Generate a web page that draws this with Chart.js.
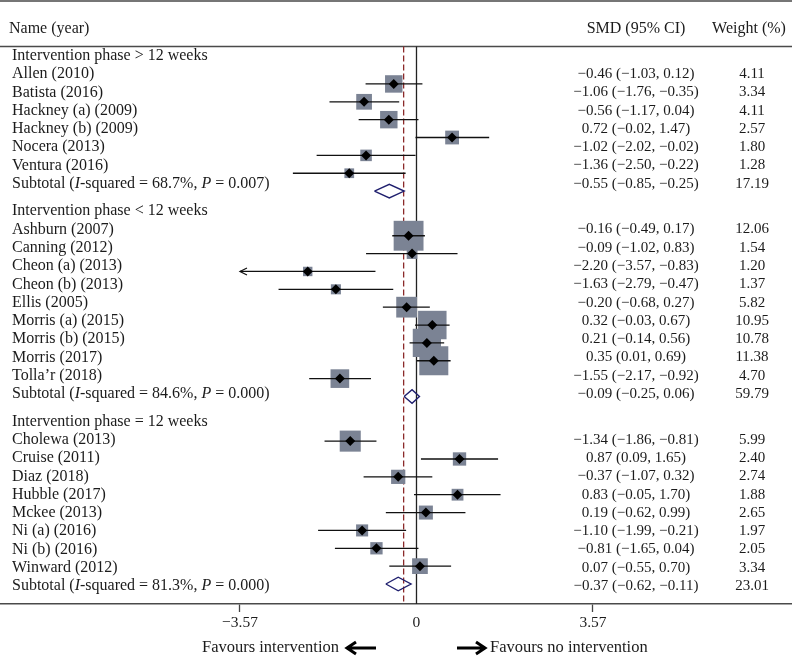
<!DOCTYPE html>
<html>
<head>
<meta charset="utf-8">
<script src="https://cdn.jsdelivr.net/npm/chart.js@4.4.0/dist/chart.umd.min.js"></script>
<style>
  html, body { margin: 0; padding: 0; background: #fff; }
  #wrap { width: 792px; height: 656px; position: relative; }
</style>
</head>
<body>
<div id="wrap"><canvas id="forest"></canvas></div>
<script>
// study data, one list per subgroup
const groupTitles = ['Intervention phase > 12 weeks', 'Intervention phase < 12 weeks', 'Intervention phase = 12 weeks'];
const groupNames = [
    ['Allen (2010)', 'Batista (2016)', 'Hackney (a) (2009)', 'Hackney (b) (2009)', 'Nocera (2013)', 'Ventura (2016)'],
    ['Ashburn (2007)', 'Canning (2012)', 'Cheon (a) (2013)', 'Cheon (b) (2013)', 'Ellis (2005)', 'Morris (a) (2015)', 'Morris (b) (2015)', 'Morris (2017)', 'Tolla\u2019r (2018)'],
    ['Cholewa (2013)', 'Cruise (2011)', 'Diaz (2018)', 'Hubble (2017)', 'Mckee (2013)', 'Ni (a) (2016)', 'Ni (b) (2016)', 'Winward (2012)']
];
const groupSmd = [
    [-0.46, -1.06, -0.56, 0.72, -1.02, -1.36],
    [-0.16, -0.09, -2.20, -1.63, -0.20, 0.32, 0.21, 0.35, -1.55],
    [-1.34, 0.87, -0.37, 0.83, 0.19, -1.10, -0.81, 0.07]
];
const groupLow = [
    [-1.03, -1.76, -1.17, -0.02, -2.02, -2.50],
    [-0.49, -1.02, -3.57, -2.79, -0.68, -0.03, -0.14, 0.01, -2.17],
    [-1.86, 0.09, -1.07, -0.05, -0.62, -1.99, -1.65, -0.55]
];
const groupHigh = [
    [0.12, -0.35, 0.04, 1.47, -0.02, -0.22],
    [0.17, 0.83, -0.83, -0.47, 0.27, 0.67, 0.56, 0.69, -0.92],
    [-0.81, 1.65, 0.32, 1.70, 0.99, -0.21, 0.04, 0.70]
];
const groupWeight = [
    [4.11, 3.34, 4.11, 2.57, 1.80, 1.28],
    [12.06, 1.54, 1.20, 1.37, 5.82, 10.95, 10.78, 11.38, 4.70],
    [5.99, 2.40, 2.74, 1.88, 2.65, 1.97, 2.05, 3.34]
];
const subtotalSmd = [-0.55, -0.09, -0.37];
const subtotalLow = [-0.85, -0.25, -0.62];
const subtotalHigh = [-0.25, 0.06, -0.11];
const subtotalWeight = [17.19, 59.79, 23.01];
const subtotalI2 = ['68.7%', '84.6%', '81.3%'];
const subtotalP = ['0.007', '0.000', '0.000'];
const overallSmd = -0.26;
const tickValues = [-3.57, 0, 3.57];

const SERIF = '"Liberation Serif", "DejaVu Serif", serif';
const TEXT = '#1b1b1b';

function fmt(v) {
    return v.toFixed(2).replace('-', '\u2212');
}

// build the rows: header, studies, subtotal, then a gap
const rows = [];
let r = 0;
groupNames.forEach((names, g) => {
    rows.push({ type: 'head', row: r, text: groupTitles[g] });
    names.forEach((n, i) => {
        r++;
        rows.push({
            type: 'study', row: r, name: n,
            smd: groupSmd[g][i], lo: groupLow[g][i], hi: groupHigh[g][i], w: groupWeight[g][i]
        });
    });
    r++;
    rows.push({
        type: 'sub', row: r, i2: subtotalI2[g], p: subtotalP[g],
        smd: subtotalSmd[g], lo: subtotalLow[g], hi: subtotalHigh[g], w: subtotalWeight[g]
    });
    r += 1.5;
});
const studies = rows.filter(d => d.type === 'study');
const subs = rows.filter(d => d.type === 'sub');

const squareData = studies.map(d => ({ x: d.smd, y: d.row, w: d.w }));
const pointData = studies.map(d => ({ x: d.smd, y: d.row }));
const ciData = [];
studies.forEach(d => {
    ciData.push({ x: d.lo, y: d.row }, { x: d.hi, y: d.row }, { x: null, y: null });
});
const diamondData = [];
subs.forEach(d => {
    diamondData.push(
        { x: d.lo, y: d.row }, { x: d.smd, y: d.row - 0.38 }, { x: d.hi, y: d.row },
        { x: d.smd, y: d.row + 0.38 }, { x: d.lo, y: d.row }, { x: null, y: null });
});

const forestText = {
    id: 'forestText',
    beforeDatasetsDraw(chart) {
        const { ctx, chartArea } = chart;
        const xs = chart.scales.x, ys = chart.scales.y;
        const W = chart.width;
        const sepY = Math.round(ys.getPixelForValue(-0.55)) + 0.5;
        ctx.save();
        // horizontal rules
        ctx.strokeStyle = '#4a4a4a';
        ctx.lineWidth = 1.5;
        ctx.beginPath();
        ctx.moveTo(0, 1); ctx.lineTo(W, 1);
        ctx.moveTo(0, sepY); ctx.lineTo(W, sepY);
        ctx.stroke();
        // no-effect line
        const x0 = xs.getPixelForValue(0);
        ctx.strokeStyle = '#222';
        ctx.lineWidth = 1.3;
        ctx.beginPath();
        ctx.moveTo(x0, sepY); ctx.lineTo(x0, chartArea.bottom);
        ctx.stroke();
        // overall effect line
        const xo = xs.getPixelForValue(overallSmd);
        ctx.strokeStyle = '#8b2a2a';
        ctx.setLineDash([6, 3]);
        ctx.beginPath();
        ctx.moveTo(xo, sepY); ctx.lineTo(xo, chartArea.bottom);
        ctx.stroke();
        ctx.restore();
    },
    afterDatasetsDraw(chart) {
        const { ctx } = chart;
        const xs = chart.scales.x, ys = chart.scales.y, ym = chart.scales.ym;
        const nameX = 12, smdX = 636, wX = 752;
        ctx.save();
        ctx.fillStyle = TEXT;
        ctx.textBaseline = 'middle';
        const font = (style, size) => style + ' ' + size + 'px ' + SERIF;

        // column headers
        const hy = ys.getPixelForValue(-1.5);
        ctx.font = font('', 16);
        ctx.textAlign = 'left';
        ctx.fillText('Name (year)', 9, hy);
        ctx.textAlign = 'center';
        ctx.fillText('SMD (95% CI)', smdX, hy);
        ctx.fillText('Weight (%)', wX - 3, hy);

        rows.forEach(d => {
            const y = ys.getPixelForValue(d.row);
            ctx.font = font('', 16);
            if (d.type === 'head') {
                ctx.textAlign = 'left';
                ctx.fillText(d.text, nameX, y);
                return;
            }
            if (d.type === 'study') {
                ctx.textAlign = 'left';
                ctx.fillText(d.name, nameX, y);
            } else {
                // Subtotal (I-squared = .., P = ..)
                const parts = [
                    ['', 'Subtotal ('], ['italic', 'I'], ['', '-squared = ' + d.i2 + ', '],
                    ['italic', 'P'], ['', ' = ' + d.p + ')']
                ];
                let x = nameX;
                ctx.textAlign = 'left';
                parts.forEach(([st, t]) => {
                    ctx.font = font(st, 16);
                    ctx.fillText(t, x, y);
                    x += ctx.measureText(t).width;
                });
            }
            ctx.font = font('', 15);
            ctx.textAlign = 'center';
            ctx.fillText(fmt(d.smd) + ' (' + fmt(d.lo) + ', ' + fmt(d.hi) + ')', smdX, y);
            ctx.fillText(d.w.toFixed(2), wX, y);
        });

        // arrowheads for intervals cut by the axis
        ctx.strokeStyle = '#111';
        ctx.lineWidth = 1.2;
        studies.forEach(d => {
            if (d.lo <= tickValues[0]) {
                const ax = xs.getPixelForValue(d.lo), ay = ym.getPixelForValue(d.row);
                ctx.beginPath();
                ctx.moveTo(ax + 7, ay - 3.5); ctx.lineTo(ax, ay); ctx.lineTo(ax + 7, ay + 3.5);
                ctx.stroke();
            }
        });

        // favours labels
        const fy = 648;
        ctx.font = font('', 16.5);
        ctx.textAlign = 'right';
        ctx.fillText('Favours intervention', 339, fy);
        ctx.textAlign = 'left';
        ctx.fillText('Favours no intervention', 490, fy);
        ctx.strokeStyle = '#000';
        ctx.lineWidth = 3;
        ctx.lineCap = 'butt';
        ctx.beginPath();
        ctx.moveTo(347, fy); ctx.lineTo(376, fy);
        ctx.moveTo(356, fy - 6); ctx.lineTo(347, fy); ctx.lineTo(356, fy + 6);
        ctx.moveTo(457, fy); ctx.lineTo(485, fy);
        ctx.moveTo(476, fy - 6); ctx.lineTo(485, fy); ctx.lineTo(476, fy + 6);
        ctx.stroke();
        ctx.restore();
    }
};

const chart = new Chart(document.getElementById('forest').getContext('2d'), {
    type: 'scatter',
    data: {
        datasets: [
            {
                // black centre diamonds
                type: 'scatter',
                data: pointData,
                yAxisID: 'ym',
                pointStyle: 'rectRot',
                pointRadius: 5,
                backgroundColor: '#000',
                borderWidth: 0,
                order: 1
            },
            {
                // confidence intervals
                type: 'line',
                data: ciData,
                yAxisID: 'ym',
                borderColor: '#111',
                borderWidth: 1.3,
                pointRadius: 0,
                spanGaps: false,
                order: 2
            },
            {
                // weight squares
                type: 'scatter',
                data: squareData,
                yAxisID: 'ym',
                pointStyle: 'rect',
                pointRadius: (c) => c.raw ? 8.6 * Math.sqrt(c.raw.w) / Math.SQRT2 : 0,
                backgroundColor: '#7b8394',
                borderWidth: 0,
                order: 3
            },
            {
                // subtotal diamonds
                type: 'line',
                data: diamondData,
                yAxisID: 'ym',
                borderColor: '#1f1f6e',
                borderWidth: 1.4,
                pointRadius: 0,
                spanGaps: false,
                tension: 0,
                order: 0
            }
        ]
    },
    options: {
        responsive: true,
        maintainAspectRatio: false,
        animation: false,
        layout: { padding: 0, autoPadding: false },
        plugins: { legend: { display: false }, tooltip: { enabled: false } },
        scales: {
            x: {
                type: 'linear',
                min: -8.424,
                max: 7.595,
                afterBuildTicks: (scale) => { scale.ticks = tickValues.map(v => ({ value: v })); },
                afterFit: (scale) => { scale.height = 52; },
                ticks: {
                    autoSkip: false,
                    maxRotation: 0,
                    padding: 2,
                    color: TEXT,
                    font: { family: SERIF, size: 15.5 },
                    callback: (v) => v === 0 ? '0' : fmt(v)
                },
                grid: {
                    drawOnChartArea: false,
                    drawTicks: true,
                    tickLength: 8,
                    tickWidth: 1.3,
                    tickColor: (c) => c.tick && c.tick.value === 0 ? 'rgba(0,0,0,0)' : '#444'
                },
                border: { color: '#4a4a4a', width: 1.5 }
            },
            // row scale for the text columns
            y: {
                type: 'linear',
                display: false,
                reverse: true,
                min: -3.05,
                max: 29.98
            },
            // row scale for the plotted marks (slightly tighter in the original)
            ym: {
                type: 'linear',
                display: false,
                reverse: true,
                min: -3.70,
                max: 30.12
            }
        }
    },
    plugins: [forestText]
});
</script>
</body>
</html>
